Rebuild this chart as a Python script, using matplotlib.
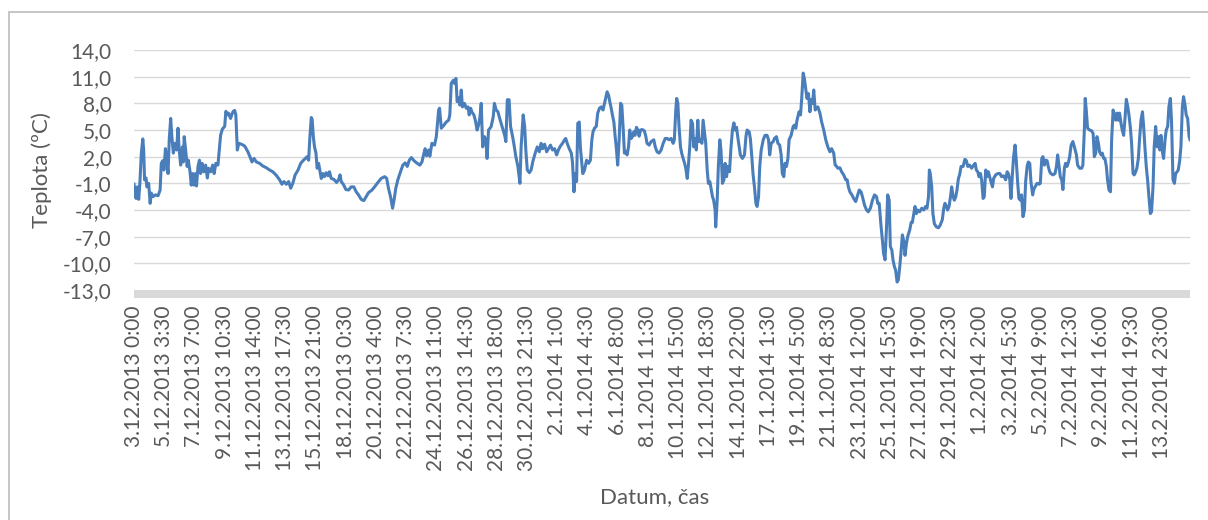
import numpy as np
from matplotlib import pyplot as plt
from matplotlib.patches import Rectangle

# hours since 3.12.2013 0:00 and the temperature
HOURS = [
	0, 3.5, 5.5, 8, 10, 12.5, 15, 16.5, 18, 20.5, 22, 25, 27.5, 29.5, 32.5, 36.5, 41, 44.5, 46.5, 49,
	51, 53.5, 55.5, 58, 60, 62.5, 64.5, 67, 69.5, 72.5, 75, 77, 79.5, 82.5, 84, 85.5, 88, 90.5, 92.5, 95.5,
	97.5, 100, 102, 104.5, 106.5, 109, 111.5, 113.5, 116, 119, 122, 125, 127, 130.5, 134, 136.5, 139.5, 143, 145.5, 147.5,
	150.5, 154.5, 156.5, 159, 161, 164.5, 167, 169, 171.5, 173.5, 176, 178.5, 183, 188.5, 194, 197.5, 201, 204.5, 208.5, 214,
	219.5, 225.5, 231, 236.5, 242.5, 248, 252,
	255.5, 259.5, 263.5, 267, 270.5, 274.5, 279.5, 284, 288, 292, 295, 297.5, 299.5, 302, 303.5, 305.5, 307.5, 310, 312, 314.5,
	316.5, 319, 322, 324.5, 327.5, 330.5, 333, 336, 340.5, 345, 348.5, 351, 353, 356.5, 361, 365.5, 370, 374.5, 378.5, 382.5,
	387, 391.5, 395.5, 399.5, 405.5, 411, 415.5, 421, 427, 430.5, 433.5, 437, 440.5, 443, 446, 449.5, 454, 458, 462, 465.5,
	469, 472.5, 477, 481.5, 487, 490.5, 494, 496, 498.5, 502, 504,
	507.5, 512, 515, 519, 520.5, 523.5, 528, 532, 536, 538, 540.5, 544, 546, 548.5, 550.5, 553, 555, 557.5, 559.5, 563,
	566, 569, 571, 573.5, 575.5, 579, 581.5, 584.5, 587, 589.5, 591.5, 594, 597, 599.5, 601.5, 604, 606.5, 608.5, 612, 614,
	617, 620, 623, 625.5, 629, 631.5, 633.5, 636, 639, 641.5, 645, 647, 650.5, 654, 657.5, 659.5, 663, 665.5, 667.5, 670,
	673.5, 676.5, 680, 683.5, 687, 690.5, 693.5, 696, 699.5, 703, 706, 709.5, 713, 716.5, 720, 723, 726.5, 730, 733.5, 735.5,
	738, 741.5, 745, 747, 749.5, 751.5, 754, 756, 758.5, 760.5,
	764.5, 767.5, 771, 774.5, 777.5, 780, 782, 784.5, 787.5, 790, 793, 796, 799, 801.5, 804, 806, 808.5, 810.5, 813, 815,
	817.5, 819.5, 822, 824, 826.5, 829, 831, 833.5, 835.5, 838, 840, 842.5, 844.5, 847, 849, 851.5, 853.5, 856, 858.5, 860.5,
	863, 866, 869.5, 872, 874, 877.5, 881, 885.5, 888, 891, 894.5, 898, 901.5, 905, 908, 911.5, 915, 918.5, 920.5, 923,
	924.5, 926.5, 928.5, 931, 933, 935.5, 938, 940, 942.5, 944.5, 947, 949, 951.5, 953.5, 956, 958, 960.5, 962.5, 965, 967.5,
	969.5, 972, 974, 976.5, 978.5, 981, 983, 985.5, 987.5, 990, 991, 993.5, 995.5, 998, 1000, 1002.5, 1005, 1007, 1009.5, 1011.5,
	1014.5,
	1017, 1019.5, 1022, 1024, 1026.5, 1028.5, 1031, 1033, 1036.5, 1040, 1042.5, 1044.5, 1048, 1050, 1052.5, 1054.5, 1057, 1059.5, 1061.5, 1064,
	1066, 1068.5, 1072, 1075, 1078.5, 1081, 1083, 1085.5, 1089, 1091, 1094.5, 1097, 1100, 1102.5, 1104.5, 1107, 1109, 1111.5, 1114, 1116,
	1119.5, 1123, 1125, 1127.5, 1129.5, 1133, 1135.5, 1137.5, 1140, 1142, 1144.5, 1146.5, 1149, 1151.5, 1153.5, 1156, 1158, 1160.5, 1162.5, 1165,
	1168.5, 1171.5, 1175, 1178.5, 1182, 1185.5, 1188.5, 1192, 1194.5, 1196.5, 1199, 1202.5, 1205.5, 1209, 1212.5, 1215, 1217, 1219.5, 1223, 1226,
	1229.5, 1233, 1235.5, 1238.5, 1241, 1244.5, 1248, 1251, 1254.5, 1258, 1261.5, 1265, 1267, 1269.5,
	1272.5, 1275, 1277, 1279.5, 1282, 1284, 1286.5, 1288.5, 1291, 1293, 1295.5, 1297.5, 1300, 1302, 1304.5, 1306.5, 1309, 1311.5, 1313.5, 1316,
	1318, 1321.5, 1324, 1326, 1328.5, 1330.5, 1333, 1335, 1338.5, 1342, 1345.5, 1348.5, 1351, 1353.5, 1355, 1356.5, 1359, 1361, 1363.5, 1367,
	1370.5, 1373.5, 1377, 1379.5, 1381.5, 1384, 1386, 1388.5, 1391, 1393, 1395.5, 1397.5, 1400, 1402, 1404.5, 1406.5, 1409, 1412.5, 1415.5, 1418,
	1420.5, 1423.5, 1427, 1430.5, 1433, 1435, 1437.5, 1439.5, 1442, 1444, 1446.5, 1448.5, 1451, 1453, 1455.5, 1459, 1462.5, 1464.5, 1468, 1471.5,
	1475, 1478, 1481.5, 1485, 1487.5, 1489.5, 1492, 1494, 1496.5, 1498.5, 1501, 1503, 1505.5, 1507.5, 1510, 1512, 1514.5, 1517, 1519, 1521.5,
	1523.5, 1526, 1528, 1531,
	1532.5, 1535, 1538.5, 1542, 1544, 1546.5, 1548.5, 1551, 1553, 1555.5, 1557.5, 1560, 1562, 1565.5, 1569, 1571.5, 1573.5, 1576, 1578, 1580.5,
	1582.5, 1585, 1587, 1589.5, 1592, 1594, 1596.5, 1599.5, 1602, 1605.5, 1607.5, 1611, 1614.5, 1616.5, 1619, 1620.5, 1622.5, 1624.5, 1628, 1631.5,
	1634, 1636, 1638.5, 1640.5, 1643, 1645, 1647.5, 1649.5, 1652, 1654, 1656.5, 1658.5, 1661, 1663.5, 1665.5, 1668, 1670, 1672.5, 1674.5, 1677,
	1679, 1681.5, 1683.5, 1686, 1688.5, 1690.5, 1693, 1695, 1697.5, 1699.5, 1702, 1704, 1706.5, 1708.5, 1711, 1713, 1715.5, 1718, 1720, 1722.5,
	1724.5, 1727, 1729, 1731.5, 1733.5, 1736, 1738, 1740.5, 1743, 1745, 1747.5, 1749.5, 1752, 1754, 1756.5, 1758.5, 1761, 1763, 1765.5, 1767.5,
	1770, 1772.5, 1774.5, 1777, 1779, 1781.5, 1783.5, 1786, 1788, 1790.5, 1792.5, 1795, 1797.5, 1799,
]

TEMPS = [
	-1.1, -2.7, -1.4, -2.8, -1.0, 2.4, 4.0, 2.75, -0.6, -0.4, -1.4, -1.0, -3.25, -2.1, -2.5, -2.3, -2.4, -1.75, 1.25, 1.55,
	0.5, 2.9, 1.8, 0.1, 3.9, 6.3, 4.25, 2.4, 3.5, 2.75, 5.2, 2.75, 1.05, 3.1, 1.4, 4.25, 2.75, 0.9, 1.6, 0.3,
	-1.2, 0.1, -1.2, 0.1, -1.3, 0.9, 1.6, 0.1, 1.25, 0.3, 1.05, -0.4, 0.7, 0.3, 1.05, 0.1, 1.25, 1.05, 2.9, 4.4,
	5.1, 5.4, 7.1, 6.7, 6.9, 6.3, 6.8, 7.1, 7.2, 6.7, 2.75, 3.5, 3.4, 3.2, 2.55, 2.0, 1.4, 1.8, 1.4, 1.25,
	0.95, 0.75, 0.5, 0.3, -0.1, -0.6, -1.1,
	-0.8, -1.1, -0.8, -1.55, -1.0, -0.05, 0.5, 1.25, 1.55, 1.8, 2.0, 1.6, 4.05, 6.4, 6.2, 4.25, 3.1, 2.4, 0.7, 1.25,
	0.5, -0.45, 0.1, -0.25, 0.2, -0.15, 0.3, -0.45, -0.55, -0.9, -0.6, -0.05, -0.8, -1.1, -1.7, -1.75, -1.4, -1.4, -1.95, -2.3,
	-2.8, -2.95, -2.5, -2.05, -1.75, -1.3, -0.9, -0.45, -0.25, -0.45, -1.55, -2.5, -3.8, -2.9, -1.55, -0.6, 0.3, 1.05, 1.3, 0.9,
	1.6, 1.9, 1.55, 1.3, 1.05, 1.4, 2.4, 2.9, 2.1, 2.75, 2.05,
	3.5, 3.3, 4.25, 7.25, 7.45, 5.2, 5.55, 5.9, 6.1, 6.7, 10.25, 10.6, 10.25, 10.8, 8.2, 8.6, 7.8, 9.5, 7.6, 8.0,
	7.45, 7.6, 6.7, 7.45, 7.05, 6.7, 6.1, 5.0, 5.55, 6.5, 8.0, 3.1, 4.25, 3.9, 1.8, 5.0, 5.2, 5.4, 6.5, 8.0,
	7.25, 7.05, 6.3, 5.75, 5.0, 4.4, 3.7, 8.4, 8.4, 5.4, 4.25, 3.5, 2.0, 0.9, -1.0, 3.1, 6.7, 5.4, 2.75, 0.5,
	0.2, 0.5, 1.6, 2.4, 3.1, 2.55, 3.5, 2.9, 3.4, 2.55, 2.9, 3.3, 2.75, 2.9, 2.2, 2.75, 3.2, 3.5, 3.9, 4.05,
	3.5, 2.9, 2.4, 1.4, -1.95, 0.1, -0.8, 5.75, 5.9, 3.0,
	0.1, 0.5, 1.6, 1.25, 1.6, 3.9, 4.8, 5.2, 5.4, 6.9, 7.45, 7.6, 7.25, 8.0, 8.75, 9.3, 8.9, 8.2, 7.45, 6.7,
	5.9, 4.4, 2.75, 1.05, 3.9, 8.0, 7.8, 5.0, 2.4, 2.6, 2.2, 3.1, 5.0, 4.05, 4.25, 4.8, 4.4, 5.3, 5.0, 4.3,
	5.0, 5.05, 4.9, 4.25, 3.5, 3.3, 3.7, 3.9, 3.1, 2.55, 2.4, 2.75, 3.5, 4.05, 4.05, 3.9, 4.05, 3.5, 3.9, 7.25,
	8.55, 8.0, 5.4, 3.1, 2.4, 1.8, 1.25, 0.7, -0.45, 1.05, 3.3, 6.1, 5.75, 3.1, 4.05, 2.75, 6.1, 3.7, 3.9, 3.5,
	6.1, 4.6, 3.5, 0.5, -1.0, -0.8, -1.55, -2.5, -2.9, -4.0, -5.9, -2.9, 0.9, 3.9, 2.75, -1.0, -0.6, 1.25, -0.25, 0.9,
	0.3,
	3.0, 5.0, 5.8, 5.0, 5.3, 4.25, 3.1, 2.2, 1.8, 2.2, 4.25, 5.0, 4.8, 4.05, 2.0, 0.1, -1.4, -3.25, -3.6, -2.5,
	0.9, 2.75, 3.9, 4.4, 4.4, 3.9, 2.2, 3.5, 3.7, 4.05, 4.25, 3.5, 3.3, 2.2, 0.1, -0.25, 1.25, 0.9, 1.8, 3.9,
	4.4, 5.4, 5.55, 5.2, 6.1, 7.05, 6.7, 8.55, 11.4, 10.8, 9.5, 8.55, 9.1, 7.05, 8.4, 8.0, 9.5, 7.25, 7.45, 7.6,
	6.9, 5.9, 5.0, 3.9, 3.1, 2.55, 2.9, 2.4, 1.05, 0.95, 0.7, 0.75, 0.3, -0.05, -0.6, -0.6, -1.4, -1.95, -2.3, -2.7,
	-3.05, -2.3, -1.75, -1.95, -2.5, -3.45, -4.0, -4.2, -3.8, -2.9, -2.3, -2.5, -3.25, -3.25,
	-5.7, -7.4, -8.9, -9.6, -5.9, -2.3, -2.9, -8.1, -8.5, -9.6, -10.4, -10.75, -12.1, -11.9, -10.4, -8.9, -6.8, -7.55, -9.1, -7.75,
	-7.0, -6.25, -5.4, -5.4, -4.4, -3.6, -4.4, -4.0, -4.2, -3.8, -4.0, -3.6, -3.8, -2.5, 0.5, 0.1, -1.4, -4.4, -5.55, -5.9,
	-6.0, -5.7, -5.1, -3.8, -3.25, -3.6, -4.0, -3.6, -2.5, -1.4, -2.5, -2.9, -2.5, -1.75, -0.45, -0.05, 0.9, 0.9, 1.7, 1.55,
	0.9, 1.05, 0.7, 1.05, 1.25, 0.5, 0.3, -0.25, 0.1, -0.6, -2.7, -2.5, 0.5, -0.25, 0.3, -0.6, -1.4, -0.45, -0.05, 0.1,
	0.1, -0.25, -0.15, -0.6, 0.3, 0.1, -0.6, -2.7, 0.1, 2.0, 3.3, 1.6, -1.0, -2.7, -2.9, -2.3, -4.75, -4.0, -0.8, 0.9,
	1.4, 1.25, -0.8, -2.3,
	-1.75, -1.4, -1.0, -1.1, -1.0, 1.8, 2.0, 1.05, 1.6, 1.55, 0.9, 0.3, 0.1, -0.05, 0.1, 0.9, 2.2, 0.9, -0.25, -0.6,
	-1.7, 0.7, 1.25, 0.9, 1.4, 2.0, 3.3, 3.7, 3.1, 2.2, 1.05, 0.7, 0.7, 1.05, 5.0, 8.55, 7.05, 5.2, 5.0, 4.9,
	4.6, 2.0, 2.4, 4.25, 3.5, 2.55, 2.2, 2.4, 1.8, 1.8, 0.9, -0.6, -1.75, -1.95, 3.9, 7.25, 6.7, 6.1, 6.9, 6.1,
	6.9, 5.75, 5.0, 4.4, 6.5, 8.45, 7.6, 6.7, 5.2, 3.5, 0.1, -0.05, 0.3, 0.7, 1.8, 3.9, 6.1, 7.05, 5.4, 2.75,
	0.9, -0.8, -2.5, -4.4, -4.2, -1.4, 3.1, 5.4, 3.1, 4.25, 2.75, 4.4, 2.55, 1.8, 3.9, 5.0, 5.4, 7.6, 8.55, 6.1,
	-0.6, -1.0, 0.1, 0.3, 0.5, 1.6, 3.1, 7.6, 8.75, 7.8, 6.7, 6.3, 4.25, 3.9,
]

TICK_LABELS = [
	"3.12.2013 0:00", "5.12.2013 3:30", "7.12.2013 7:00", "9.12.2013 10:30", "11.12.2013 14:00",
	"13.12.2013 17:30", "15.12.2013 21:00", "18.12.2013 0:30", "20.12.2013 4:00", "22.12.2013 7:30",
	"24.12.2013 11:00", "26.12.2013 14:30", "28.12.2013 18:00", "30.12.2013 21:30", "2.1.2014 1:00",
	"4.1.2014 4:30", "6.1.2014 8:00", "8.1.2014 11:30", "10.1.2014 15:00", "12.1.2014 18:30",
	"14.1.2014 22:00", "17.1.2014 1:30", "19.1.2014 5:00", "21.1.2014 8:30", "23.1.2014 12:00",
	"25.1.2014 15:30", "27.1.2014 19:00", "29.1.2014 22:30", "1.2.2014 2:00", "3.2.2014 5:30",
	"5.2.2014 9:00", "7.2.2014 12:30", "9.2.2014 16:00", "11.2.2014 19:30", "13.2.2014 23:00",
]
TICK_STEP_H = 51.5
Y_TICKS = [-13, -10, -7, -4, -1, 2, 5, 8, 11, 14]

GREY_TEXT = "#595959"
GRID = "#d9d9d9"
LINE = "#4a7ebb"


def main():
	plt.rcParams['font.family'] = ['Lato', 'DejaVu Sans']
	fig = plt.figure(figsize=(12.08, 5.2), dpi=100)
	ax = fig.add_axes([134 / 1208, 1 - 290 / 520, 1056 / 1208, 240 / 520])

	ax.plot(HOURS, TEMPS, color=LINE, lw=2.2, solid_joinstyle='round', zorder=3)

	ax.set_xlim(0, HOURS[-1])
	ax.set_ylim(-13, 14)
	for y in Y_TICKS[1:]:
		ax.axhline(y, color=GRID, lw=1.0, zorder=1)
	# thick grey category axis at the bottom
	ax.axhspan(-13.85, -12.95, color=GRID, lw=0, clip_on=False, zorder=2)

	for s in ax.spines.values():
		s.set_visible(False)

	ax.set_yticks(Y_TICKS)
	ax.set_yticklabels([f"{v:.1f}".replace('.', ',') for v in Y_TICKS])
	ax.set_xticks(np.arange(len(TICK_LABELS)) * TICK_STEP_H)
	ax.set_xticklabels(TICK_LABELS, rotation=90, ha='center', va='top')
	ax.tick_params(axis='y', length=0, pad=16, labelsize=15, labelcolor=GREY_TEXT)
	ax.tick_params(axis='x', length=0, pad=11, labelsize=15, labelcolor=GREY_TEXT)

	ax.set_ylabel("Teplota (ºC)", fontsize=16, color=GREY_TEXT, labelpad=8)
	fig.text(655 / 1208, 1 - 497 / 520, "Datum, čas", fontsize=16, color=GREY_TEXT, ha='center', va='center')

	fig.patches.append(Rectangle((9 / 1208, -0.1), 1.1, 1.1 - 12 / 520, transform=fig.transFigure,
		fill=False, ec='#c0c0c0', lw=1.3))

	fig.savefig("out.png", dpi=100)


main()
